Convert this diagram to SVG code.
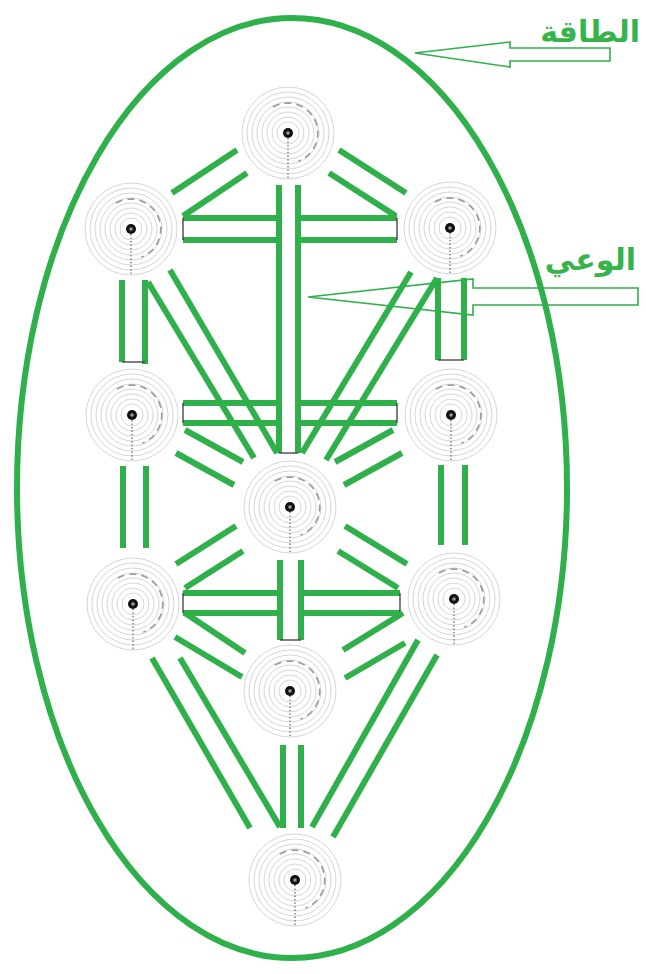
<svg xmlns="http://www.w3.org/2000/svg" xmlns:xlink="http://www.w3.org/1999/xlink" width="646" height="974" viewBox="0 0 646 974">
<style>
.ring{fill:none;stroke:#d0d0d0;stroke-width:0.9}
.arc{fill:none;stroke:#9a9a9a;stroke-width:1.6;stroke-dasharray:7 5}
.dot{fill:none;stroke:#666;stroke-width:1.2;stroke-dasharray:1.5 2}
.g{stroke:#2fb04b;stroke-width:6;stroke-linecap:butt;fill:none}
.k{stroke:#3a3a3a;stroke-width:1.3;fill:none}
.arrow{fill:none;stroke:#2fb04b;stroke-width:1.6;stroke-linejoin:miter}
.lbl{font-family:"DejaVu Sans",sans-serif;font-weight:bold;fill:#36b34b;text-anchor:end}
</style>
<defs>
<g id="sphere">
<circle class="ring" r="46"/>
<circle class="ring" r="41"/>
<circle class="ring" r="36"/>
<circle class="ring" r="31"/>
<circle class="ring" r="26"/>
<circle class="ring" r="21"/>
<circle class="ring" r="16"/>
<circle class="ring" r="11"/>
<path class="arc" d="M -15 -26 A 30 30 0 1 1 10.3 28.2"/>
<line class="dot" x1="0" y1="5" x2="0" y2="46"/>
<circle r="5" fill="#111"/>
<circle r="1.8" fill="#999"/>
</g>
</defs>
<rect width="646" height="974" fill="#fff"/>
<ellipse cx="292" cy="488" rx="275" ry="470" fill="none" stroke="#2fb04b" stroke-width="6"/>
<g id="keter"><use xlink:href="#sphere" x="288" y="133"/></g>
<g id="chokmah"><use xlink:href="#sphere" x="450" y="228"/></g>
<g id="binah"><use xlink:href="#sphere" x="131" y="229"/></g>
<g id="chesed"><use xlink:href="#sphere" x="451" y="415"/></g>
<g id="gevurah"><use xlink:href="#sphere" x="132" y="415"/></g>
<g id="tiferet"><use xlink:href="#sphere" x="290" y="507"/></g>
<g id="netzach"><use xlink:href="#sphere" x="454" y="599"/></g>
<g id="hod"><use xlink:href="#sphere" x="133" y="604"/></g>
<g id="yesod"><use xlink:href="#sphere" x="290" y="691"/></g>
<g id="malkuth"><use xlink:href="#sphere" x="295" y="880"/></g>
<g id="connectors">
<line class="g" x1="237" y1="150" x2="172" y2="193"/>
<line class="g" x1="247" y1="173" x2="183" y2="216"/>
<line class="g" x1="339" y1="150" x2="406" y2="193"/>
<line class="g" x1="329" y1="173" x2="396" y2="216"/>
<line class="g" x1="183" y1="218" x2="277" y2="218"/>
<line class="g" x1="183" y1="240" x2="277" y2="240"/>
<line class="g" x1="300" y1="218" x2="397" y2="218"/>
<line class="g" x1="300" y1="240" x2="397" y2="240"/>
<line class="k" x1="183" y1="218" x2="183" y2="240"/>
<line class="k" x1="397" y1="218" x2="397" y2="240"/>
<line class="g" x1="279" y1="185" x2="279" y2="453"/>
<line class="g" x1="298" y1="185" x2="298" y2="453"/>
<line class="k" x1="279" y1="453" x2="298" y2="453"/>
<line class="g" x1="122" y1="280" x2="122" y2="362"/>
<line class="g" x1="145" y1="280" x2="145" y2="364"/>
<line class="k" x1="122" y1="362" x2="145" y2="362"/>
<line class="g" x1="438" y1="278" x2="438" y2="360"/>
<line class="g" x1="464" y1="278" x2="464" y2="360"/>
<line class="k" x1="438" y1="360" x2="464" y2="360"/>
<line class="g" x1="148" y1="282" x2="254" y2="458"/>
<line class="g" x1="170" y1="270" x2="277" y2="453"/>
<line class="g" x1="437" y1="278" x2="326" y2="460"/>
<line class="g" x1="411" y1="272" x2="302" y2="453"/>
<line class="g" x1="183" y1="403" x2="278" y2="403"/>
<line class="g" x1="183" y1="423" x2="278" y2="423"/>
<line class="g" x1="299" y1="403" x2="397" y2="403"/>
<line class="g" x1="299" y1="423" x2="397" y2="423"/>
<line class="k" x1="183" y1="403" x2="183" y2="423"/>
<line class="k" x1="397" y1="403" x2="397" y2="423"/>
<line class="g" x1="185" y1="430" x2="243" y2="462"/>
<line class="g" x1="176" y1="453" x2="234" y2="485"/>
<line class="g" x1="393" y1="430" x2="335" y2="462"/>
<line class="g" x1="402" y1="453" x2="344" y2="485"/>
<line class="g" x1="123" y1="466" x2="123" y2="548"/>
<line class="g" x1="146" y1="466" x2="146" y2="548"/>
<line class="g" x1="441" y1="465" x2="441" y2="545"/>
<line class="g" x1="465" y1="465" x2="465" y2="545"/>
<line class="g" x1="185" y1="588" x2="243" y2="551"/>
<line class="g" x1="176" y1="564" x2="236" y2="526"/>
<line class="g" x1="398" y1="588" x2="338" y2="551"/>
<line class="g" x1="407" y1="564" x2="345" y2="526"/>
<line class="g" x1="183" y1="593" x2="280" y2="593"/>
<line class="g" x1="183" y1="613" x2="280" y2="613"/>
<line class="g" x1="301" y1="593" x2="400" y2="593"/>
<line class="g" x1="301" y1="613" x2="400" y2="613"/>
<line class="k" x1="183" y1="593" x2="183" y2="613"/>
<line class="k" x1="400" y1="593" x2="400" y2="613"/>
<line class="g" x1="280" y1="560" x2="280" y2="640"/>
<line class="g" x1="301" y1="560" x2="301" y2="640"/>
<line class="k" x1="280" y1="640" x2="301" y2="640"/>
<line class="g" x1="185" y1="613" x2="245" y2="653"/>
<line class="g" x1="175" y1="637" x2="242" y2="677"/>
<line class="g" x1="403" y1="613" x2="343" y2="650"/>
<line class="g" x1="405" y1="643" x2="345" y2="678"/>
<line class="g" x1="152" y1="658" x2="250" y2="828"/>
<line class="g" x1="180" y1="658" x2="280" y2="827"/>
<line class="g" x1="418" y1="640" x2="312" y2="827"/>
<line class="g" x1="437" y1="655" x2="333" y2="837"/>
<line class="g" x1="283" y1="745" x2="283" y2="828"/>
<line class="g" x1="301" y1="745" x2="301" y2="828"/>
</g>
<g id="label-energy">
<polygon class="arrow" points="415,53 510,42 510,48 610,48 610,61 510,61 510,67"/>
<text class="lbl" x="640" y="42" font-size="30">الطاقة</text>
</g>
<g id="label-consciousness">
<polygon class="arrow" points="308,297 473,279 473,288 638,288 638,305 473,305 473,315"/>
<text class="lbl" x="636" y="270" font-size="30">الوعي</text>
</g>
</svg>
